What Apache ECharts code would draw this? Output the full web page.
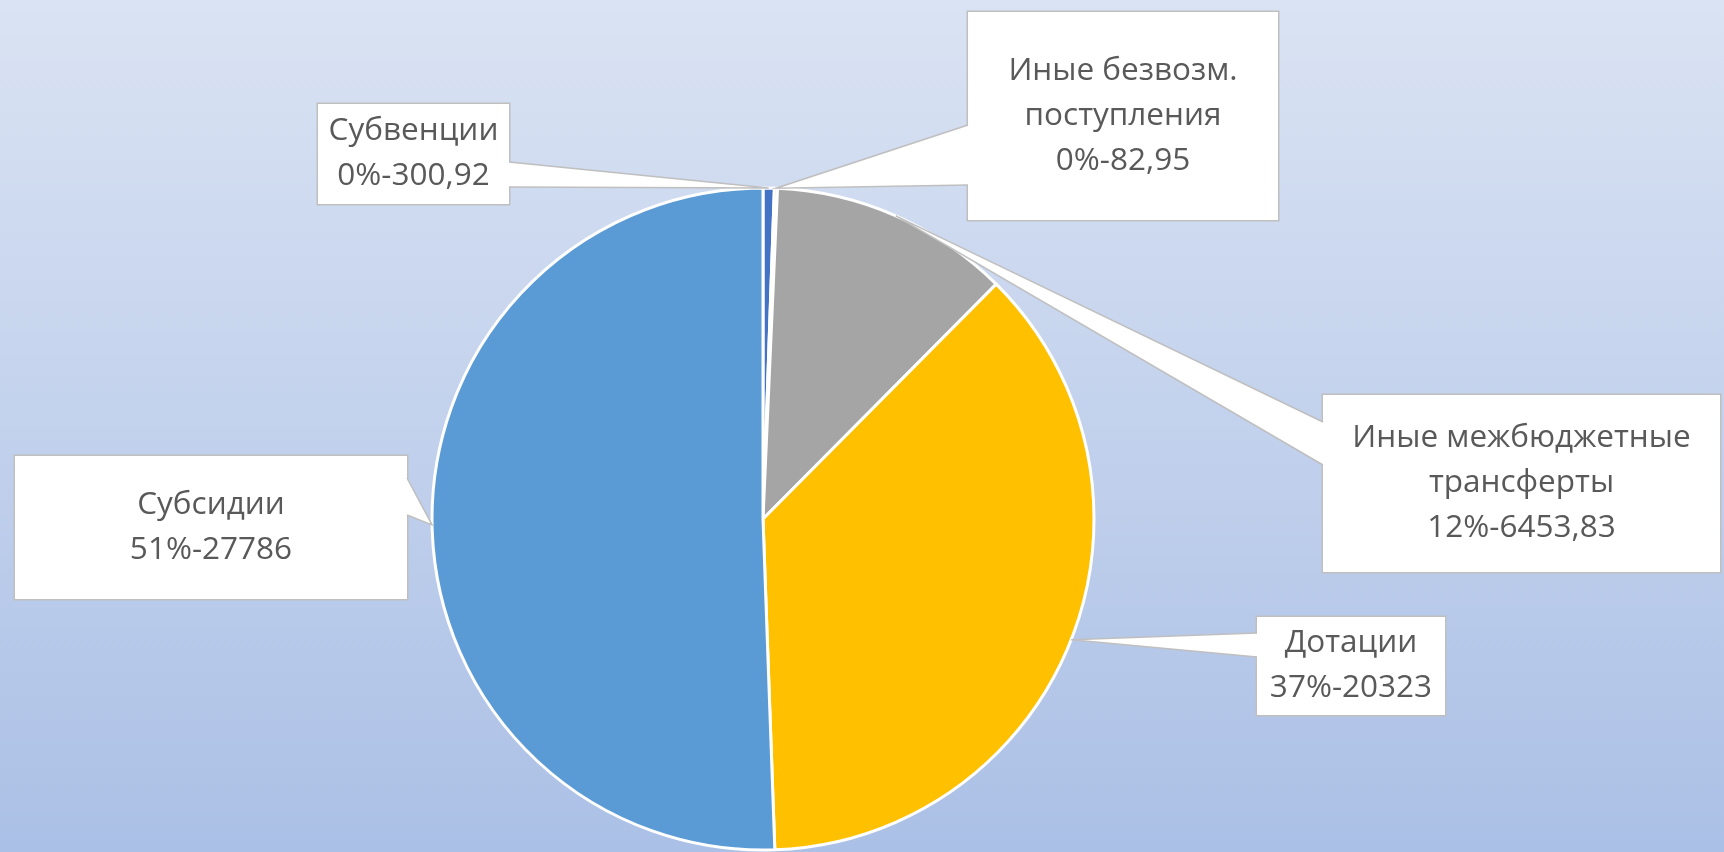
<!DOCTYPE html>
<html>
<head>
<meta charset="utf-8">
<script src="https://cdn.jsdelivr.net/npm/echarts@6/dist/echarts.min.js"></script>
<style>
	html, body { margin: 0; padding: 0; }
	#chart { width: 1724px; height: 852px; }
</style>
</head>
<body>
<div id="chart"></div>
<script>
// slices, clockwise from 12 o'clock
const names = ['Субвенции', 'Иные безвозм.\nпоступления', 'Иные межбюджетные\nтрансферты', 'Дотации', 'Субсидии'];
const values = [300.92, 82.95, 6453.83, 20323, 27786];
const colors = ['#4472C4', '#ED7D31', '#A5A5A5', '#FFC000', '#5B9BD5'];

// callout boxes (left, top, width, height) and where the pointer leaves the box
const boxes = [
	{ x: 318, y: 104, w: 191, h: 100, side: 'right', b0: 162, b1: 187 },
	{ x: 968, y: 12, w: 310, h: 208, side: 'left', b0: 125, b1: 185 },
	{ x: 1323, y: 395, w: 397, h: 177, side: 'left', b0: 422, b1: 465 },
	{ x: 1257, y: 617, w: 188, h: 98, side: 'left', b0: 633, b1: 657 },
	{ x: 15, y: 456, w: 392, h: 143, side: 'right', b0: 478, b1: 515 }
];

const LINE_H = 45;

function fmtValue(v) {
	return String(v).replace('.', ',');
}

const chart = echarts.init(document.getElementById('chart'), null, { renderer: 'canvas' });

const option = {
	animation: false,
	backgroundColor: {
		type: 'linear', x: 0, y: 0, x2: 0, y2: 1,
		colorStops: [
			{ offset: 0, color: '#DAE3F3' },
			{ offset: 1, color: '#ABC0E6' }
		]
	},
	series: [{
		type: 'pie',
		center: [763, 519],
		radius: 331,
		startAngle: 90,
		clockwise: true,
		percentPrecision: 0,
		avoidLabelOverlap: false,
		itemStyle: {
			borderColor: '#FFFFFF',
			borderWidth: 3
		},
		labelLine: { show: false },
		label: {
			show: true,
			position: 'outside',
			color: '#595959',
			fontFamily: 'Open Sans',
			fontSize: 31.5,
			lineHeight: LINE_H,
			align: 'center',
			backgroundColor: '#FFFFFF',
			borderColor: '#BFBFBF',
			borderWidth: 1.5,
			formatter: p => p.name + '\n' + p.percent + '%-' + fmtValue(p.value)
		},
		labelLayout: params => {
			const b = boxes[params.dataIndex];
			return {
				x: b.x + b.w / 2,
				y: b.y,
				align: 'center',
				verticalAlign: 'top'
			};
		},
		data: names.map((n, i) => {
			const lines = n.split('\n').length + 1;
			const b = boxes[i];
			return {
				name: n,
				value: values[i],
				itemStyle: { color: colors[i] },
				label: {
					width: b.w,
					padding: [(b.h - lines * LINE_H) / 2, 0]
				}
			};
		})
	}]
};

chart.setOption(option);

// callout pointers: from the box edge to the middle of the slice's arc
function drawPointers() {
	const data = chart.getModel().getSeriesByIndex(0).getData();
	const graphic = [];
	boxes.forEach((b, i) => {
		const l = data.getItemLayout(i);
		const mid = (l.startAngle + l.endAngle) / 2;
		const tip = [l.cx + l.r * Math.cos(mid), l.cy + l.r * Math.sin(mid)];
		const ex = b.side === 'right' ? b.x + b.w : b.x;
		const inX = b.side === 'right' ? ex - 2 : ex + 2;
		graphic.push({
			type: 'polygon',
			z: 100,
			shape: { points: [[inX, b.b0], [ex, b.b0], tip, [ex, b.b1], [inX, b.b1]] },
			style: { fill: '#FFFFFF' }
		});
		graphic.push({
			type: 'polyline',
			z: 101,
			shape: { points: [[ex, b.b0], tip, [ex, b.b1]] },
			style: { stroke: '#BFBFBF', lineWidth: 1.5, fill: null }
		});
	});
	chart.setOption({ graphic });
}

drawPointers();
</script>
</body>
</html>
